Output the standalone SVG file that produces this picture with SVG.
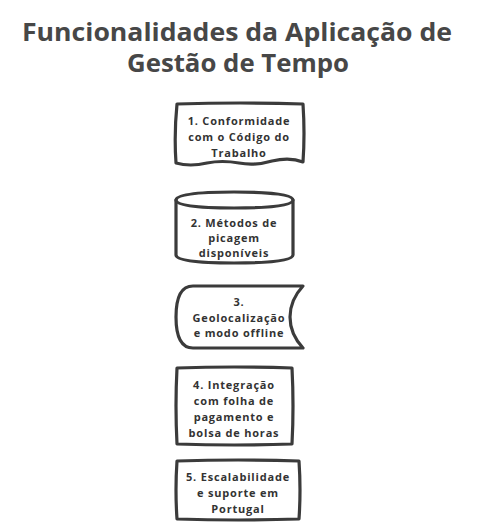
<svg xmlns="http://www.w3.org/2000/svg" width="479" height="529" viewBox="0 0 479 529">
<style>
.shape{fill:#ffffff;stroke:#3b3b3b;stroke-width:3.2;stroke-linejoin:round;stroke-linecap:round}
.title{font-family:"Open Sans","Noto Sans",sans-serif;font-weight:700;font-size:25px;fill:#474747;text-anchor:middle}
.lbl{font-family:"Open Sans","Noto Sans",sans-serif;font-weight:700;font-size:11px;letter-spacing:0.8px;fill:#333333;text-anchor:middle}
</style>
<rect width="479" height="529" fill="#ffffff"/>
<g id="title">
<text class="title" x="237" y="41" textLength="430" lengthAdjust="spacingAndGlyphs">Funcionalidades da Aplicação de</text>
<text class="title" x="238" y="72" textLength="222" lengthAdjust="spacingAndGlyphs">Gestão de Tempo</text>
</g>
<g id="connectors"></g>
<g id="n1">
<path class="shape" d="M177,104 Q240,102 303,104 Q305,134 303,162 Q290,157 272,161 Q255,166 239,163 Q222,160 207,163 Q190,167 176,163 Q174,134 177,104 Z"/>
<text class="lbl" x="239" y="125">1. Conformidade</text>
<text class="lbl" x="239" y="141">com o Código do</text>
<text class="lbl" x="239" y="157">Trabalho</text>
</g>
<g id="n2">
<path class="shape" d="M176,200 Q176,192 234,192 Q293,192 293,200 L293,255 Q293,263 234,263 Q176,263 176,255 Z"/>
<path class="shape" fill="none" d="M176,200 Q176,208 234,208 Q293,208 293,200"/>
<text class="lbl" x="234" y="227">2. Métodos de</text>
<text class="lbl" x="234" y="242">picagem</text>
<text class="lbl" x="234" y="257">disponíveis</text>
</g>
<g id="n3">
<path class="shape" d="M193,286 L303,286 Q290,300 290,317 Q290,334 303,348 L193,348 Q176,348 176,317 Q176,286 193,286 Z"/>
<text class="lbl" x="239" y="306">3.</text>
<text class="lbl" x="239" y="322">Geolocalização</text>
<text class="lbl" x="239" y="337">e modo offline</text>
</g>
<g id="n4">
<path class="shape" d="M177,368 Q234,366 292,368 Q294,406 292,444 Q234,446 177,444 Q175,406 177,368 Z"/>
<text class="lbl" x="234" y="389">4. Integração</text>
<text class="lbl" x="234" y="405">com folha de</text>
<text class="lbl" x="234" y="421">pagamento e</text>
<text class="lbl" x="234" y="437">bolsa de horas</text>
</g>
<g id="n5">
<path class="shape" d="M177,461 Q238,459 299,461 Q301,490 299,519 Q238,521 177,519 Q175,490 177,461 Z"/>
<text class="lbl" x="238" y="481">5. Escalabilidade</text>
<text class="lbl" x="238" y="497">e suporte em</text>
<text class="lbl" x="238" y="513">Portugal</text>
</g>
</svg>
